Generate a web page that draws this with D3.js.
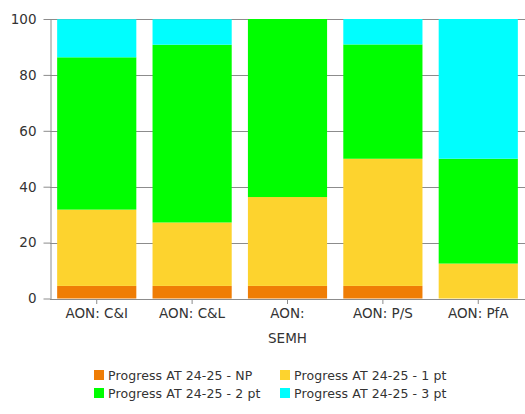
<!DOCTYPE html>
<html>
<head>
<meta charset="utf-8">
<script src="https://cdn.jsdelivr.net/npm/d3@7"></script>
<style>
  body { margin: 0; background: #fff; }
  svg { display: block; }
</style>
</head>
<body>
<div class="chart"></div>
<script>
// chart values (percent of pupils)
var categories = ["AON: C&I", "AON: C&L", "AON: SEMH", "AON: P/S", "AON: PfA"];
var seriesNames = ["Progress AT 24-25 - NP", "Progress AT 24-25 - 1 pt",
                   "Progress AT 24-25 - 2 pt", "Progress AT 24-25 - 3 pt"];
var npValues  = [4.5, 4.5, 4.5, 4.5, 0];
var pt1Values = [27.3, 22.7, 31.8, 45.5, 12.5];
var pt2Values = [54.5, 63.6, 63.7, 40.9, 37.5];
var pt3Values = [13.6, 9.1, 0, 9.1, 50];
var yTicks = [0, 20, 40, 60, 80, 100];

var colors = ["#ef7d05", "#fdd32e", "#00fe00", "#00fefe"];

var width = 525;
var height = 414;

var svg = d3.select(".chart").append("svg")
    .attr("width", width)
    .attr("height", height);

// build rows for d3.stack
var rows = categories.map(function(c, i) {
    var r = { cat: c };
    r[seriesNames[0]] = npValues[i];
    r[seriesNames[1]] = pt1Values[i];
    r[seriesNames[2]] = pt2Values[i];
    r[seriesNames[3]] = pt3Values[i];
    return r;
});

var stacked = d3.stack().keys(seriesNames)(rows);

var x = d3.scaleBand()
    .domain(categories)
    .range([50, 525])
    .paddingInner(0.17)
    .paddingOuter(0.075);

var y = d3.scaleLinear()
    .domain([0, 100])
    .range([298.5, 19]);

// gridlines
svg.append("g")
    .selectAll("line")
    .data(yTicks)
    .enter().append("line")
    .attr("x1", 50)
    .attr("x2", width)
    .attr("y1", function(d) { return Math.round(y(d)) + 0.5; })
    .attr("y2", function(d) { return Math.round(y(d)) + 0.5; })
    .attr("stroke", "#8c8c8c")
    .attr("stroke-width", 1);

// bars
svg.append("g")
    .selectAll("g")
    .data(stacked)
    .enter().append("g")
    .attr("fill", function(d, i) { return colors[i]; })
    .selectAll("rect")
    .data(function(d) { return d; })
    .enter().append("rect")
    .attr("x", function(d) { return x(d.data.cat); })
    .attr("width", x.bandwidth())
    .attr("y", function(d) { return y(d[1]); })
    .attr("height", function(d) { return y(d[0]) - y(d[1]); });

// y axis
var yAxis = svg.append("g")
    .attr("transform", "translate(50.5,0)")
    .call(d3.axisLeft(y).tickValues(yTicks).tickSize(7).tickPadding(7).tickSizeOuter(0));
yAxis.select(".domain").attr("stroke", "#8c8c8c");
yAxis.selectAll(".tick line").attr("stroke", "#8c8c8c");
yAxis.selectAll(".tick text")
    .attr("fill", "#333")
    .style("font-family", "'DejaVu Sans', sans-serif")
    .style("font-size", "13.5px");

// x axis
var xAxis = svg.append("g")
    .attr("transform", "translate(0,299)")
    .call(d3.axisBottom(x).tickSize(5).tickSizeOuter(0));
xAxis.select(".domain").attr("stroke", "#8c8c8c").attr("d", "M50,0.5H" + width);
xAxis.selectAll(".tick line").attr("stroke", "#8c8c8c");
xAxis.selectAll(".tick text").remove();
xAxis.selectAll(".tick").each(function(d) {
    var t = d3.select(this).append("text")
        .attr("fill", "#333")
        .attr("text-anchor", "middle")
        .style("font-family", "'DejaVu Sans', sans-serif")
        .style("font-size", "13.5px")
        .attr("y", 19)
        .text(d);
    if (t.node().getComputedTextLength() > x.bandwidth() - 4) {
        var words = d.split(" ");
        t.text(null);
        words.forEach(function(w, i) {
            t.append("tspan").attr("x", 0).attr("y", 19 + i * 25).text(w);
        });
    }
});

// legend, two rows in two columns
var legendCols = [94, 280];
seriesNames.forEach(function(name, k) {
    var g = svg.append("g")
        .attr("transform", "translate(" + legendCols[k % 2] + "," + (375 + Math.floor(k / 2) * 18) + ")");
    g.append("rect")
        .attr("x", 0)
        .attr("y", -5)
        .attr("width", 10)
        .attr("height", 10)
        .attr("fill", colors[k]);
    g.append("text")
        .attr("x", 14)
        .attr("y", 4.5)
        .attr("fill", "#333")
        .style("font-family", "'DejaVu Sans', sans-serif")
        .style("font-size", "12.5px")
        .style("letter-spacing", "0.1px")
        .text(name);
});
</script>
</body>
</html>
